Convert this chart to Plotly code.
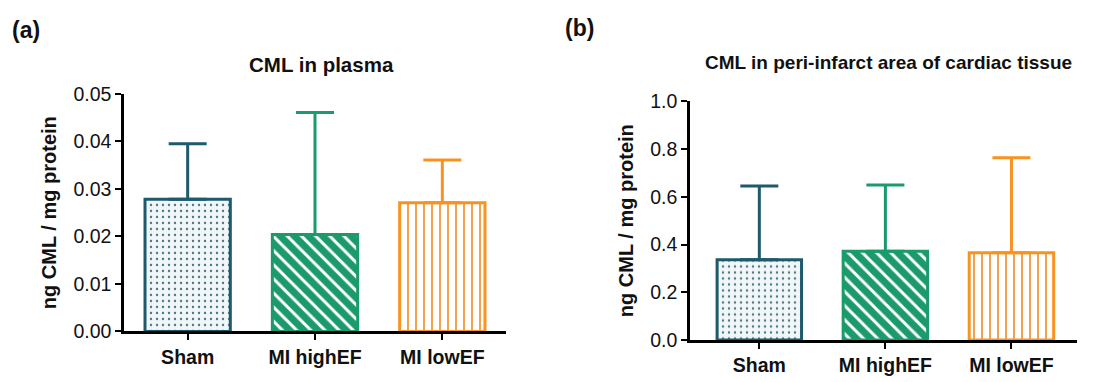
import plotly.graph_objects as go

categories = ["Sham", "MI highEF", "MI lowEF"]
plasma_mean = [0.0278, 0.0204, 0.0271]
plasma_err = [0.0117, 0.0257, 0.0090]
tissue_mean = [0.336, 0.372, 0.366]
tissue_err = [0.309, 0.278, 0.398]
plasma_ticks = [0.00, 0.01, 0.02, 0.03, 0.04, 0.05]
plasma_ticklabels = ["0.00", "0.01", "0.02", "0.03", "0.04", "0.05"]
tissue_ticks = [0.0, 0.2, 0.4, 0.6, 0.8, 1.0]
tissue_ticklabels = ["0.0", "0.2", "0.4", "0.6", "0.8", "1.0"]

colors = ["#1c5a6c", "#1b9a6c", "#f7931e"]
patterns = [
    dict(shape=".", fgcolor="#4d7583", bgcolor="#f1f6f8", size=6, solidity=0.12, fgopacity=1),
    dict(shape="\\", fgcolor=colors[1], bgcolor="white", size=10, solidity=0.7, fgopacity=1),
    dict(shape="|", fgcolor="#f5a04a", bgcolor="white", size=8, solidity=0.25, fgopacity=1),
]

FONT = "Liberation Sans, Arial, sans-serif"
TICK = 19.5

fig = go.Figure()

for (mean, err, xa, ya) in [(plasma_mean, plasma_err, "x", "y"), (tissue_mean, tissue_err, "x2", "y2")]:
    for i, cat in enumerate(categories):
        fig.add_trace(go.Bar(
            x=[cat], y=[mean[i]], xaxis=xa, yaxis=ya, width=0.67,
            marker=dict(color="white", line=dict(color=colors[i], width=3), pattern=patterns[i]),
            error_y=dict(type="data", symmetric=False, array=[err[i]], arrayminus=[0],
                         color=colors[i], thickness=3, width=19),
            showlegend=False,
        ))

axis_common = dict(showline=True, linecolor="black", linewidth=2.5, ticks="outside",
                   tickwidth=2, tickcolor="black", ticklen=6, showgrid=False, zeroline=False,
                   tickfont=dict(family=FONT, size=TICK, color="#111"),
                   tickprefix="<b>", ticksuffix="</b>")
ytitle = dict(text="<b>ng CML / mg protein</b>", font=dict(family=FONT, size=20, color="#111"), standoff=12)

fig.update_layout(
    width=1104, height=382, margin=dict(l=0, r=0, t=0, b=0),
    paper_bgcolor="white", plot_bgcolor="white", barmode="overlay",
    font=dict(family=FONT, color="#111"),
    xaxis=dict(domain=[124/1104, 506/1104], anchor="y", range=[-0.5, 2.5],
               categoryorder="array", categoryarray=categories, **axis_common),
    yaxis=dict(domain=[1-340/382, 1-88/382], anchor="x", range=[0, 0.05],
               tickvals=plasma_ticks, ticktext=plasma_ticklabels, title=ytitle, **axis_common),
    xaxis2=dict(domain=[690/1104, 1077/1104], anchor="y2", range=[-0.55, 2.52],
                categoryorder="array", categoryarray=categories, **axis_common),
    yaxis2=dict(domain=[1-349/382, 1-96/382], anchor="x2", range=[0, 1.0],
                tickvals=tissue_ticks, ticktext=tissue_ticklabels, title=ytitle, **axis_common),
)

annotations = [
    dict(text="<b>(a)</b>", x=10/1104, y=1-20/382, xanchor="left", yanchor="middle", font_size=23),
    dict(text="<b>(b)</b>", x=563/1104, y=1-18/382, xanchor="left", yanchor="middle", font_size=23),
    dict(text="<b>CML in plasma</b>", x=321/1104, y=1-57/382, xanchor="center", yanchor="middle", font_size=20.5),
    dict(text="<b>CML in peri-infarct area of cardiac tissue</b>", x=888/1104, y=1-55/382,
         xanchor="center", yanchor="middle", font_size=19),
]
for a in annotations:
    fig.add_annotation(xref="paper", yref="paper", showarrow=False,
                       font=dict(family=FONT, size=a.pop("font_size"), color="#111"), **a)

fig.write_html("out.html")
